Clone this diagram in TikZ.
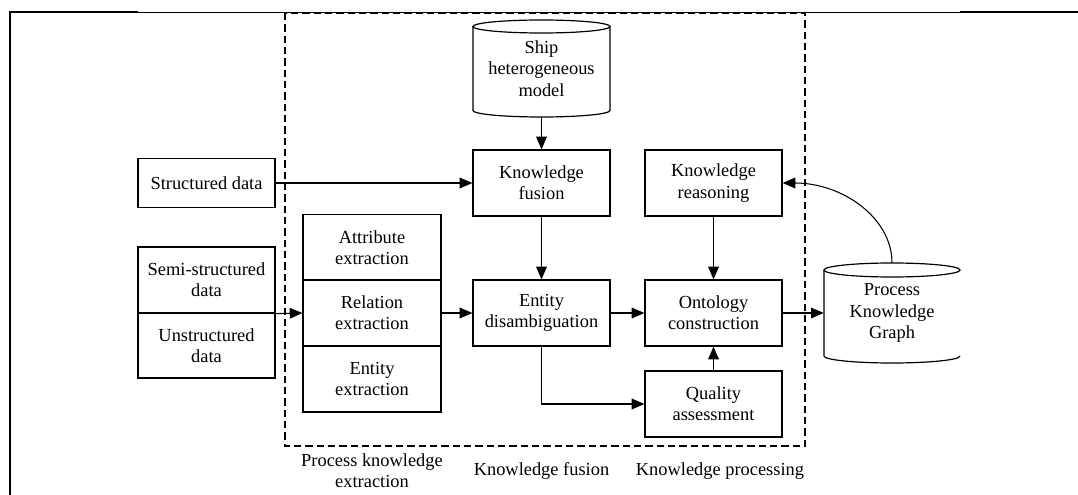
\documentclass[tikz,border=0pt]{standalone}
\usepackage{fontspec}
\setmainfont{Liberation Serif}
\usetikzlibrary{arrows.meta}
\begin{document}
\begin{tikzpicture}[x=0.75pt,y=0.75pt,
  font=\fontsize{13.8}{16}\selectfont,
  box/.style={draw, line width=0.9pt, rectangle, inner sep=0pt, align=center,
              minimum width=102.75pt, minimum height=49.5pt},
  cyltext/.style={inner sep=0pt, align=center},
  flow/.style={-{Triangle[length=9.5pt,width=8pt]}, line width=0.8pt},
  outline/.style={line width=0.9pt},
  caption/.style={align=center}
]
\useasboundingbox (0,0) rectangle (1078,-495);

% outer frame (top and left edges)
\draw[line width=1.5pt] (9,-12.5) -- (138,-12.5);
\draw[line width=0.75pt] (138,-12.5) -- (960,-12.5);
\draw[line width=1.5pt] (960,-12.5) -- (1078,-12.5);
\draw[line width=1.5pt] (10,-12) -- (10,-495);

% dashed processing region
\draw[line width=0.8pt, dash pattern=on 5.5pt off 3pt] (285,-13) rectangle (805,-446);

% input data
\node[box, minimum height=36.75pt] (sdata) at (206.5,-183) {Structured data};
\node[box] (semi) at (206.5,-280) {Semi-structured\\data};
\node[box, minimum height=48.75pt] (unstr) at (206.5,-345.5) {Unstructured\\data};

% extraction stack
\node[box, minimum width=103.5pt] (attr) at (372,-247.5) {Attribute\\extraction};
\node[box, minimum width=103.5pt] (rel) at (372,-313) {Relation\\extraction};
\node[box, minimum width=103.5pt] (ent) at (372,-379) {Entity\\extraction};

% fusion column
\node[cyltext, minimum width=102.75pt, minimum height=72.75pt] (ship) at (541.5,-68.5)
  {Ship\\heterogeneous\\model};
\draw[outline] (541.5,-26.5) ellipse (68.5 and 6.5);
\draw[outline] (473,-26.5) -- (473,-110.5) arc (180:360:68.5 and 6.5) -- (610,-26.5);
\node[box] (fusion) at (541.5,-183) {Knowledge\\fusion};
\node[box] (disamb) at (541.5,-313) {Entity\\disambiguation};

% processing column
\node[box] (reason) at (713.5,-183) {Knowledge\\reasoning};
\node[box] (onto) at (713.5,-313) {Ontology\\construction};
\node[box] (quality) at (713.5,-404) {Quality\\assessment};

% knowledge graph store
\node[cyltext, minimum width=102pt, minimum height=75pt] (pkg) at (892,-313)
  {Process\\Knowledge\\Graph};
\draw[outline] (892,-270) ellipse (68 and 7);
\draw[outline] (824,-270) -- (824,-356) arc (180:360:68 and 7);

% connectors
\draw[flow] (ship.south) -- (fusion.north);
\draw[flow] (sdata.east) -- (fusion.west);
\draw[flow] (semi.south east) -- (rel.west);
\draw[flow] (rel.east) -- (disamb.west);
\draw[flow] (disamb.east) -- (onto.west);
\draw[flow] (onto.east) -- (pkg.west);
\draw[flow] (fusion.south) -- (disamb.north);
\draw[flow] (reason.south) -- (onto.north);
\draw[flow] (quality.north) -- (onto.south);
\draw[flow] (disamb.south) |- (quality.west);
\draw[flow] (pkg.north) to[out=90, in=0, out looseness=0.84, in looseness=1.14] (reason.east);

% stage captions
\node[caption] (capext) at (372,-471) {Process knowledge\\extraction};
\node[caption] (capfus) at (541.5,-471) {Knowledge fusion};
\node[caption] (capproc) at (720,-471) {Knowledge processing};
\end{tikzpicture}
\end{document}
